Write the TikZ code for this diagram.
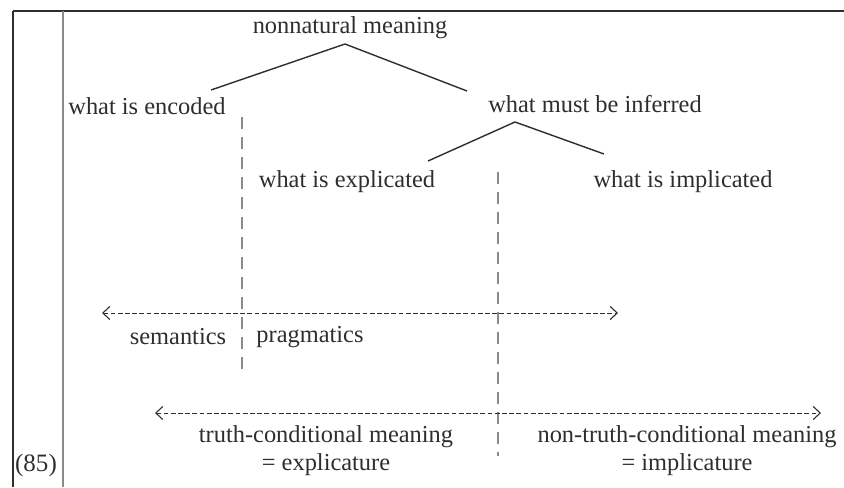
\documentclass[tikz,border=0pt]{standalone}
\usepackage{fontspec}
\setmainfont{Liberation Serif}
\usetikzlibrary{arrows.meta}

\definecolor{inkgray}{HTML}{2E2E2E}
\definecolor{rulegray}{HTML}{8A8A8A}

\tikzset{
  lbl/.style={text=inkgray, font=\fontsize{12.2}{14}\selectfont, inner sep=0pt},
  branch/.style={draw=inkgray, line width=0.7pt},
  divider/.style={draw=rulegray, line width=0.6pt, dash pattern=on 6pt off 4pt},
  scalearrow/.style={draw=inkgray, line width=0.45pt, dash pattern=on 2.4pt off 1.2pt,
    {Straight Barb[length=3.5pt,width=6.5pt,line width=0.55pt]}-{Straight Barb[length=3.5pt,width=6.5pt,line width=0.55pt]}},
}

\begin{document}
\begin{tikzpicture}[x=0.5pt,y=-0.5pt]
  \useasboundingbox (0,0) rectangle (844,487);

  \draw[inkgray, line width=1.2pt] (13,11) -- (844,11);
  \draw[inkgray, line width=1pt] (13,11) -- (13,487);
  \draw[rulegray, line width=1pt] (63,11) -- (63,487);
  \node[lbl, font=\fontsize{12.5}{14}\selectfont] (num) at (36,465) {(85)};

  \node[lbl] (nonnat) at (350,28) {nonnatural meaning};
  \node[lbl] (encoded) at (147,106) {what is encoded};
  \node[lbl] (inferred) at (595,104) {what must be inferred};
  \node[lbl] (explic) at (347,182) {what is explicated};
  \node[lbl] (implic) at (683,182) {what is implicated};

  \coordinate (top1) at (345,44);
  \coordinate (leg1l) at (211,90);
  \coordinate (leg1r) at (467,91);
  \coordinate (top2) at (515,122);
  \coordinate (leg2l) at (428,161);
  \coordinate (leg2r) at (604,154);
  \draw[branch] (leg1l) -- (top1) -- (leg1r);
  \draw[branch] (leg2l) -- (top2) -- (leg2r);

  \coordinate (cut1a) at (242,117);
  \coordinate (cut1b) at (242,370);
  \coordinate (cut2a) at (498,172);
  \coordinate (cut2b) at (498,456);
  \draw[divider] (cut1a) -- (cut1b);
  \draw[divider] (cut2a) -- (cut2b);

  \coordinate (semL) at (102,313);
  \coordinate (semR) at (618,313);
  \draw[scalearrow] (semL) -- (semR);
  \node[lbl] (sem) at (178,337) {semantics};
  \node[lbl] (prag) at (310,337) {pragmatics};

  \coordinate (tcL) at (155,413);
  \coordinate (tcR) at (821,413);
  \draw[scalearrow] (tcL) -- (tcR);
  \node[lbl, align=center] (truth) at (326,451) {truth-conditional meaning\\= explicature};
  \node[lbl, align=center] (nontruth) at (687,451) {non-truth-conditional meaning\\= implicature};
\end{tikzpicture}
\end{document}
